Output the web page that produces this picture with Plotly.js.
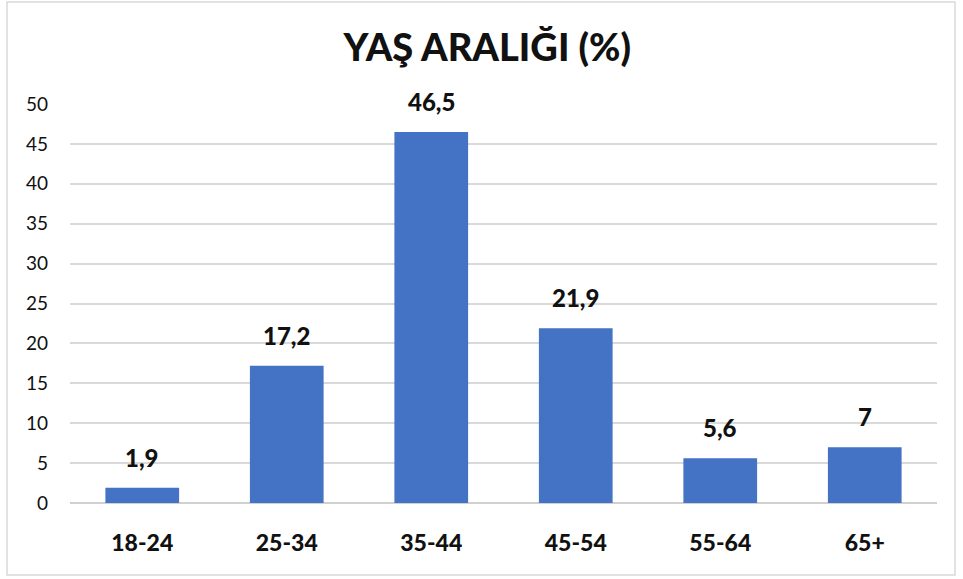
<!DOCTYPE html>
<html>
<head>
<meta charset="utf-8">
<script src="https://cdn.plot.ly/plotly-3.0.1.min.js"></script>
<style>
  html, body { margin: 0; padding: 0; background: #fff; }
  #chart { width: 963px; height: 579px; }
</style>
</head>
<body>
<div id="chart"></div>
<script>
const ageGroups = ["18-24", "25-34", "35-44", "45-54", "55-64", "65+"];
const sharePct = [1.9, 17.2, 46.5, 21.9, 5.6, 7];
const shareLabels = ["1,9", "17,2", "46,5", "21,9", "5,6", "7"];
const yTicks = [0, 5, 10, 15, 20, 25, 30, 35, 40, 45, 50];

const fontFamily = "Lato, 'Open Sans', 'DejaVu Sans', sans-serif";

const trace = {
  type: "bar",
  x: ageGroups,
  y: sharePct,
  marker: { color: "#4472c4", line: { width: 0 } },
  hoverinfo: "x+y",
};

const labelNotes = ageGroups.map((group, i) => ({
  x: group,
  y: sharePct[i],
  xref: "x",
  yref: "y",
  text: shareLabels[i],
  showarrow: false,
  yanchor: "bottom",
  yshift: 14,
  font: { family: fontFamily, size: 24, color: "#111", weight: 900 },
}));

const layout = {
  width: 963,
  height: 579,
  margin: { l: 70, r: 26, t: 104, b: 76 },
  paper_bgcolor: "#fff",
  plot_bgcolor: "#fff",
  title: {
    text: "YAŞ ARALIĞI (%)",
    font: { family: fontFamily, size: 38, color: "#111", weight: 900 },
    x: 0.506,
    xanchor: "center",
    y: 0.918,
    yanchor: "middle",
  },
  bargap: 0.49,
  showlegend: false,
  xaxis: {
    type: "category",
    showgrid: false,
    showline: false,
    zeroline: false,
    ticks: "",
    tickfont: { family: fontFamily, size: 23, color: "#111", weight: 900 },
    ticklabelstandoff: 24,
  },
  yaxis: {
    range: [0, 50],
    tickvals: yTicks,
    ticktext: yTicks.map(String),
    showgrid: true,
    gridcolor: "#d9d9d9",
    gridwidth: 1.5,
    zeroline: true,
    zerolinecolor: "#d0d0d0",
    zerolinewidth: 1.5,
    showline: false,
    ticks: "",
    tickfont: { family: fontFamily, size: 19, color: "#111" },
    ticklabelstandoff: 21,
  },
  annotations: labelNotes,
  shapes: [
    {
      type: "rect",
      xref: "paper",
      yref: "paper",
      x0: (7 - 70) / 867,
      x1: (955 - 70) / 867,
      y0: (503 - 575) / 399,
      y1: (503 - 2) / 399,
      line: { color: "#d9d9d9", width: 1.5 },
      layer: "below",
    },
  ],
};

Plotly.newPlot("chart", [trace], layout, { displayModeBar: false, responsive: false });
</script>
</body>
</html>
